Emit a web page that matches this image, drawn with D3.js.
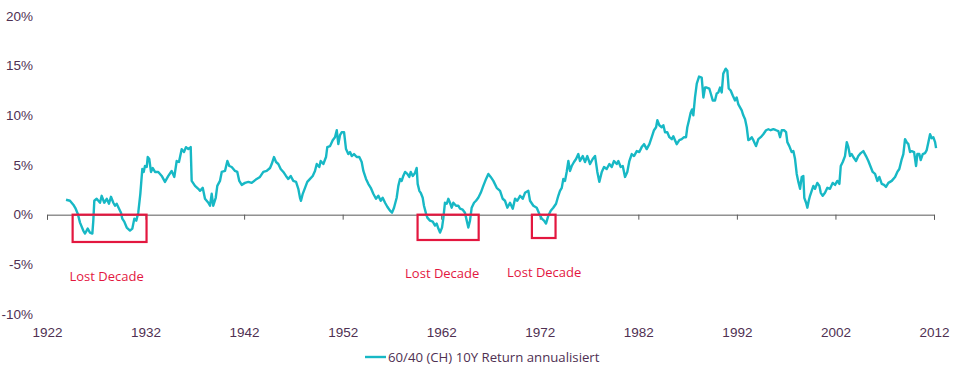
<!DOCTYPE html>
<html>
<head>
<meta charset="utf-8">
<script src="https://cdn.jsdelivr.net/npm/d3@7"></script>
<style>
  body { margin: 0; background: #fff; }
  svg { display: block; font-family: "Open Sans", sans-serif; }
</style>
</head>
<body>
<svg id="chart" width="960" height="374"></svg>
<script>
// 60/40 (CH) 10Y rolling return
var years = [
  1923.93, 1924.33, 1924.67, 1924.91, 1925.12, 1925.35, 1925.68, 1925.86, 1926.13, 1926.36,
  1926.60, 1926.70, 1926.80, 1927.04, 1927.38, 1927.55, 1927.81, 1928.06, 1928.29, 1928.49,
  1928.73, 1928.90, 1929.07, 1929.31, 1929.51, 1929.64, 1929.84, 1930.09, 1930.42, 1930.66,
  1930.86, 1931.06, 1931.26, 1931.47, 1931.67, 1931.81, 1931.94, 1932.12, 1932.22, 1932.38,
  1932.55, 1932.73, 1932.96, 1933.29, 1933.64, 1933.97, 1934.31, 1934.65, 1934.92, 1935.16,
  1935.39, 1935.67, 1935.90, 1936.10, 1936.34, 1936.58, 1936.68, 1937.02, 1937.35, 1937.52,
  1937.80, 1938.03, 1938.37, 1938.54, 1938.71, 1938.87, 1939.12, 1939.28, 1939.55, 1939.73,
  1940.06, 1940.30, 1940.50, 1940.74, 1941.08, 1941.31, 1941.51, 1941.76, 1942.09, 1942.43,
  1942.77, 1943.28, 1943.61, 1943.95, 1944.29, 1944.63, 1944.80, 1945.03, 1945.24, 1945.47,
  1945.71, 1945.98, 1946.25, 1946.48, 1946.73, 1946.99, 1947.27, 1947.50, 1947.67, 1947.77,
  1947.95, 1948.18, 1948.41, 1948.69, 1948.96, 1949.19, 1949.37, 1949.63, 1949.77, 1950.04,
  1950.31, 1950.44, 1950.72, 1950.99, 1951.22, 1951.40, 1951.56, 1951.73, 1951.90, 1952.14,
  1952.34, 1952.57, 1952.75, 1952.92, 1953.15, 1953.43, 1953.69, 1953.93, 1954.10, 1954.37,
  1954.60, 1954.85, 1955.11, 1955.38, 1955.62, 1955.86, 1956.06, 1956.30, 1956.53, 1956.80,
  1957.01, 1957.21, 1957.48, 1957.65, 1957.82, 1957.99, 1958.15, 1958.33, 1958.56, 1958.76,
  1958.91, 1959.11, 1959.34, 1959.51, 1959.61, 1959.78, 1959.92, 1960.12, 1960.25, 1960.46,
  1960.59, 1960.86, 1961.14, 1961.37, 1961.54, 1961.71, 1961.88, 1962.08, 1962.21, 1962.38,
  1962.56, 1962.72, 1962.89, 1963.06, 1963.23, 1963.50, 1963.73, 1963.91, 1964.18, 1964.41,
  1964.59, 1964.75, 1964.92, 1965.09, 1965.33, 1965.53, 1965.76, 1966.01, 1966.27, 1966.55,
  1966.78, 1967.02, 1967.29, 1967.63, 1967.97, 1968.24, 1968.47, 1968.71, 1968.98, 1969.26,
  1969.49, 1969.72, 1970.00, 1970.27, 1970.50, 1970.84, 1971.01, 1971.35, 1971.69, 1971.95,
  1972.20, 1972.43, 1972.63, 1972.87, 1973.11, 1973.37, 1973.65, 1973.88, 1974.05, 1974.23,
  1974.39, 1974.56, 1974.73, 1974.90, 1975.07, 1975.24, 1975.47, 1975.68, 1975.91, 1976.08,
  1976.36, 1976.59, 1976.82, 1977.10, 1977.37, 1977.61, 1977.84, 1978.04, 1978.29, 1978.52,
  1978.79, 1979.06, 1979.30, 1979.53, 1979.81, 1979.97, 1980.21, 1980.42, 1980.65, 1980.88,
  1981.09, 1981.33, 1981.56, 1981.84, 1982.10, 1982.34, 1982.58, 1982.85, 1983.12, 1983.36,
  1983.59, 1983.80, 1983.93, 1984.13, 1984.37, 1984.54, 1984.71, 1984.94, 1985.15, 1985.39,
  1985.55, 1985.72, 1985.90, 1986.16, 1986.40, 1986.64, 1986.84, 1986.97, 1987.14, 1987.32,
  1987.45, 1987.58, 1987.75, 1987.93, 1988.16, 1988.43, 1988.60, 1988.77, 1988.94, 1989.20,
  1989.35, 1989.55, 1989.78, 1989.95, 1990.12, 1990.29, 1990.46, 1990.62, 1990.87, 1991.03,
  1991.17, 1991.37, 1991.58, 1991.81, 1991.98, 1992.15, 1992.32, 1992.49, 1992.65, 1992.83,
  1993.00, 1993.16, 1993.33, 1993.51, 1993.67, 1993.94, 1994.18, 1994.42, 1994.68, 1994.96,
  1995.19, 1995.43, 1995.70, 1995.97, 1996.21, 1996.38, 1996.55, 1996.78, 1996.99, 1997.12,
  1997.32, 1997.56, 1997.73, 1997.90, 1998.07, 1998.24, 1998.41, 1998.58, 1998.74, 1998.84,
  1999.02, 1999.15, 1999.29, 1999.42, 1999.59, 1999.76, 1999.93, 2000.16, 2000.37, 2000.51,
  2000.71, 2000.94, 2001.18, 2001.45, 2001.72, 2001.96, 2002.19, 2002.40, 2002.54, 2002.74,
  2002.97, 2003.15, 2003.31, 2003.48, 2003.65, 2003.81, 2004.09, 2004.32, 2004.57, 2004.83,
  2005.10, 2005.34, 2005.58, 2005.78, 2006.02, 2006.25, 2006.45, 2006.70, 2006.93, 2007.13,
  2007.37, 2007.71, 2008.05, 2008.28, 2008.48, 2008.73, 2008.89, 2009.06, 2009.23, 2009.40,
  2009.57, 2009.74, 2009.98, 2010.18, 2010.31, 2010.51, 2010.65, 2010.86, 2011.09, 2011.26,
  2011.43, 2011.60, 2011.77, 2011.93, 2012.11, 2012.21
];
var returns = [
  1.5, 1.4, 1.0, 0.6, 0.1, -0.8, -1.6, -1.9, -1.4, -1.8,
  -1.9, -0.6, 1.4, 1.6, 1.2, 1.9, 1.2, 1.6, 1.1, 1.8,
  1.2, 0.9, 1.1, 0.6, 0.2, -0.4, -0.7, -1.3, -1.6, -1.4,
  -0.4, -0.6, 0.2, 2.1, 4.6, 4.3, 4.9, 4.8, 5.8, 5.6,
  4.3, 4.7, 4.3, 4.3, 3.9, 3.3, 3.9, 4.4, 3.8, 5.4,
  5.3, 6.6, 6.3, 6.8, 6.6, 6.8, 3.4, 2.9, 2.6, 2.4,
  2.7, 1.6, 1.2, 0.9, 2.1, 0.9, 1.7, 2.9, 3.4, 4.3,
  4.4, 5.4, 4.9, 4.8, 4.4, 4.3, 3.4, 3.0, 3.2, 3.3,
  3.2, 3.6, 3.8, 4.3, 4.4, 4.7, 5.1, 5.8, 5.3, 5.1,
  4.6, 4.3, 3.9, 3.6, 3.9, 3.4, 3.3, 2.6, 1.7, 1.4,
  2.1, 2.7, 3.3, 3.6, 3.9, 4.4, 5.1, 4.8, 5.4, 5.1,
  5.8, 6.8, 6.9, 7.5, 7.8, 8.5, 7.1, 8.0, 8.3, 8.3,
  6.6, 6.1, 6.3, 5.9, 6.1, 5.8, 5.8, 5.3, 4.4, 3.6,
  3.1, 2.7, 2.1, 1.6, 1.9, 1.4, 1.7, 1.2, 0.8, 0.4,
  0.2, 0.7, 1.7, 2.9, 3.6, 3.4, 3.9, 4.3, 4.1, 3.8,
  4.3, 3.9, 4.2, 4.7, 3.1, 2.4, 2.2, 1.7, 0.9, 0.1,
  -0.3, -0.6, -0.7, -1.1, -0.9, -1.4, -1.8, -1.3, -0.4, 1.2,
  1.1, 1.6, 1.2, 0.7, 1.2, 0.9, 0.9, 0.6, 0.5, 0.2,
  -0.6, -1.3, -0.6, 0.7, 1.2, 1.4, 1.7, 2.2, 2.9, 3.6,
  4.1, 3.8, 3.4, 2.7, 2.4, 1.6, 1.4, 0.7, 1.2, 0.6,
  1.6, 1.4, 1.9, 1.6, 2.2, 2.4, 1.4, 0.9, 0.7, 0.1,
  -0.4, -0.6, -0.9, -0.1, 0.4, 0.7, 1.1, 1.9, 2.4, 2.7,
  3.6, 3.4, 4.3, 5.4, 4.4, 4.9, 5.3, 5.6, 6.1, 5.4,
  5.9, 5.3, 5.9, 5.1, 5.6, 5.9, 4.3, 3.3, 4.3, 4.8,
  4.6, 5.1, 4.8, 5.4, 5.1, 5.4, 4.8, 4.9, 3.8, 4.3,
  5.4, 6.1, 5.9, 6.4, 6.3, 6.8, 7.1, 6.6, 7.1, 7.8,
  8.5, 8.8, 9.5, 9.0, 8.8, 9.0, 8.3, 8.3, 7.8, 7.6,
  7.9, 7.5, 7.1, 7.5, 7.6, 7.8, 7.8, 8.8, 9.5, 10.3,
  10.6, 10.0, 11.8, 13.2, 13.9, 13.8, 11.8, 12.8, 12.8, 12.7,
  12.2, 11.5, 11.5, 12.2, 12.3, 12.8, 12.3, 14.2, 14.7, 14.5,
  12.7, 12.5, 12.0, 11.5, 11.8, 11.1, 10.8, 10.5, 10.0, 9.6,
  8.8, 7.5, 7.6, 7.8, 7.5, 6.9, 7.6, 7.8, 8.1, 8.5,
  8.6, 8.5, 8.6, 8.5, 8.4, 7.8, 8.5, 8.5, 8.3, 7.3,
  6.9, 6.3, 6.4, 5.6, 4.1, 3.3, 2.6, 3.8, 3.9, 1.7,
  1.2, 0.7, 1.4, 1.9, 2.4, 2.9, 2.6, 3.2, 2.9, 2.2,
  1.9, 2.2, 2.7, 2.6, 3.2, 3.0, 3.4, 3.1, 4.9, 5.3,
  5.9, 7.3, 6.8, 5.9, 6.1, 5.8, 5.4, 5.9, 6.2, 6.4,
  5.9, 5.4, 4.8, 4.3, 4.1, 3.4, 3.8, 3.1, 3.0, 2.8,
  3.2, 3.4, 3.8, 4.3, 4.6, 5.6, 6.1, 7.6, 7.3, 7.1,
  6.3, 6.4, 6.3, 4.9, 6.1, 6.1, 5.5, 6.1, 6.2, 6.5,
  7.3, 8.1, 7.7, 7.8, 7.3, 6.7
];

var xTicks = [1922, 1932, 1942, 1952, 1962, 1972, 1982, 1992, 2002, 2012];
var yTicks = [-10, -5, 0, 5, 10, 15, 20];

// "Lost Decade" boxes: start year, end year, bottom value
var boxStart = [1924.6, 1959.6, 1971.2];
var boxEnd = [1932.1, 1965.8, 1973.6];
var boxBottom = [-2.75, -2.55, -2.35];
var noteYear = [1928.05, 1962.1, 1972.45];
var noteValue = [-6.2, -5.9, -5.8];
var noteText = "Lost Decade";

var seriesName = "60/40 (CH) 10Y Return annualisiert";

var textColor = "#4f3052";
var lineColor = "#17b8c5";
var boxColor = "#e3173f";

var svg = d3.select("#chart");

var x = d3.scaleLinear().domain([1922, 2012]).range([47, 934]);
var y = d3.scaleLinear().domain([-10, 20]).range([314, 16]);

var data = years.map(function(yr, i) { return { year: yr, value: returns[i] }; });

// y labels only, no axis line
var yAxis = svg.append("g")
    .attr("transform", "translate(36,0)")
    .call(d3.axisLeft(y).tickValues(yTicks).tickSize(0).tickPadding(3)
        .tickFormat(function(d) { return d + "%"; }));
yAxis.select(".domain").remove();
yAxis.selectAll("text")
    .attr("fill", textColor)
    .style("font-size", "13.5px");

// x axis sits on the zero line, labels down at the bottom
var xAxis = svg.append("g")
    .attr("transform", "translate(0," + y(0) + ")")
    .call(d3.axisBottom(x).tickValues(xTicks).tickSize(5).tickSizeOuter(5).tickPadding(108)
        .tickFormat(d3.format("d")));
xAxis.select(".domain").attr("stroke", "#5a5a5a");
xAxis.selectAll(".tick line").attr("stroke", "#5a5a5a");
xAxis.selectAll("text")
    .attr("fill", textColor)
    .style("font-size", "13.5px");

var line = d3.line()
    .x(function(d) { return x(d.year); })
    .y(function(d) { return y(d.value); });

svg.append("path")
    .datum(data)
    .attr("fill", "none")
    .attr("stroke", lineColor)
    .attr("stroke-width", 2.4)
    .attr("stroke-linejoin", "round")
    .attr("d", line);

// red boxes
svg.append("g")
    .selectAll("rect")
    .data(boxStart)
    .enter()
    .append("rect")
    .attr("x", function(d) { return x(d); })
    .attr("y", y(0))
    .attr("width", function(d, i) { return x(boxEnd[i]) - x(d); })
    .attr("height", function(d, i) { return y(boxBottom[i]) - y(0); })
    .attr("fill", "none")
    .attr("stroke", boxColor)
    .attr("stroke-width", 2.2);

svg.append("g")
    .selectAll("text")
    .data(noteYear)
    .enter()
    .append("text")
    .attr("x", function(d) { return x(d); })
    .attr("y", function(d, i) { return y(noteValue[i]); })
    .attr("dy", "0.35em")
    .attr("text-anchor", "middle")
    .attr("fill", boxColor)
    .style("font-size", "13px")
    .text(noteText);

// legend
var legend = svg.append("g").attr("transform", "translate(365,357)");
legend.append("line")
    .attr("x1", 0).attr("x2", 21)
    .attr("stroke", lineColor)
    .attr("stroke-width", 2.4);
legend.append("text")
    .attr("x", 23)
    .attr("dy", "0.35em")
    .attr("fill", textColor)
    .style("font-size", "13.2px")
    .text(seriesName);
</script>
</body>
</html>
